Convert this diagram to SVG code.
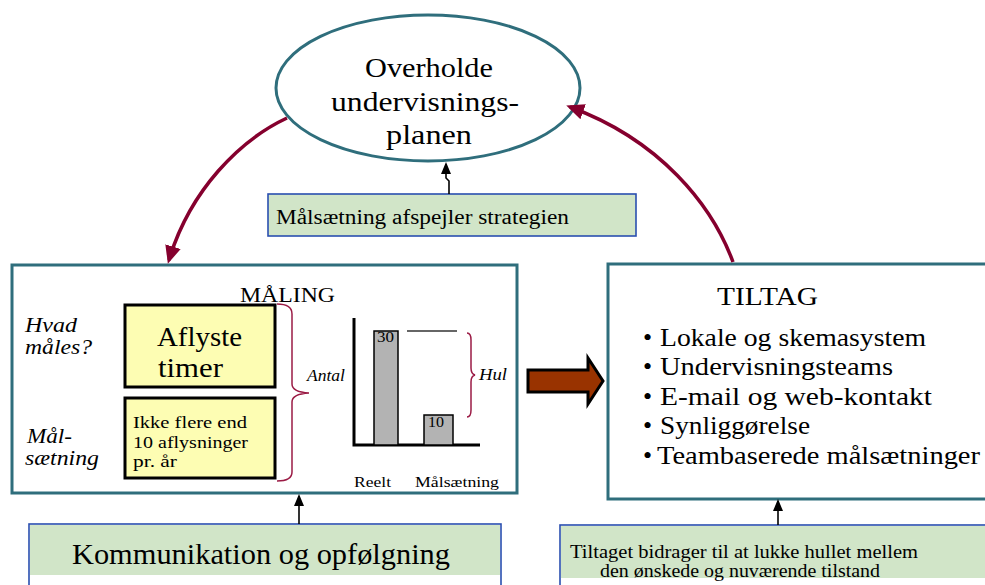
<svg xmlns="http://www.w3.org/2000/svg" width="985" height="585" viewBox="0 0 985 585">
  <style>
    text { font-family: "Liberation Serif", "DejaVu Serif", serif; fill: #000; }
    .it { font-style: italic; }
    .frame { fill: #fff; stroke: #2f6e7c; stroke-width: 3; }
    .note { fill: #d1e5c8; stroke: #2a4fb0; stroke-width: 1.6; }
    .notebox { fill: #fff; stroke: #2a4fb0; stroke-width: 1.6; }
    .yellow { fill: #fdfdb3; stroke: #000; stroke-width: 3; }
    .bar { fill: #b3b3b3; stroke: #000; stroke-width: 1.5; }
    .axis { fill: none; stroke: #000; stroke-width: 3; }
    .brace { fill: none; stroke: #9b1b45; stroke-width: 1.5; }
    .loop { fill: none; stroke: #85002e; stroke-width: 3.5; }
    .thin { fill: none; stroke: #000; stroke-width: 1.6; }
  </style>
  <defs>
    <marker id="redHead" markerUnits="userSpaceOnUse" markerWidth="18" markerHeight="18" viewBox="0 0 18 18" refX="14" refY="9" orient="auto">
      <path d="M0,1 L18,9 L0,17 z" fill="#85002e"/>
    </marker>
    <marker id="blackHead" markerUnits="userSpaceOnUse" markerWidth="12" markerHeight="12" viewBox="0 0 12 12" refX="10" refY="6" orient="auto">
      <path d="M0,1 L12,6 L0,11 z" fill="#000"/>
    </marker>
  </defs>

  <!-- goal ellipse -->
  <g id="goal">
    <ellipse cx="428" cy="88" rx="152" ry="73" fill="#fff" stroke="#2f6e7c" stroke-width="3"/>
    <text x="365" y="77" font-size="27" textLength="128" lengthAdjust="spacingAndGlyphs">Overholde</text>
    <text x="331" y="111" font-size="27" textLength="188" lengthAdjust="spacingAndGlyphs">undervisnings-</text>
    <text x="386" y="144" font-size="27" textLength="86" lengthAdjust="spacingAndGlyphs">planen</text>
  </g>

  <!-- strategy note -->
  <g id="strategy">
    <rect class="note" x="268" y="194" width="368" height="42"/>
    <text x="276" y="224" font-size="20" textLength="293" lengthAdjust="spacingAndGlyphs">Målsætning afspejler strategien</text>
  </g>

  <!-- measurement panel -->
  <g id="maaling">
    <rect class="frame" x="12" y="265" width="505" height="228"/>
    <text x="240" y="302" font-size="22" textLength="95" lengthAdjust="spacingAndGlyphs">MÅLING</text>
    <text class="it" x="25" y="332" font-size="21" textLength="52" lengthAdjust="spacingAndGlyphs">Hvad</text>
    <text class="it" x="25" y="354" font-size="21" textLength="67" lengthAdjust="spacingAndGlyphs">måles?</text>
    <text class="it" x="27" y="443" font-size="20" textLength="45" lengthAdjust="spacingAndGlyphs">Mål-</text>
    <text class="it" x="25" y="465" font-size="20" textLength="74" lengthAdjust="spacingAndGlyphs">sætning</text>

    <rect class="yellow" x="125" y="305" width="150" height="82"/>
    <text x="157" y="346" font-size="28" textLength="85" lengthAdjust="spacingAndGlyphs">Aflyste</text>
    <text x="158" y="377" font-size="28" textLength="65" lengthAdjust="spacingAndGlyphs">timer</text>

    <rect class="yellow" x="125" y="398" width="150" height="80"/>
    <text x="133" y="428" font-size="17" textLength="114" lengthAdjust="spacingAndGlyphs">Ikke flere end</text>
    <text x="133" y="448" font-size="17" textLength="115" lengthAdjust="spacingAndGlyphs">10 aflysninger</text>
    <text x="133" y="467" font-size="17" textLength="44" lengthAdjust="spacingAndGlyphs">pr. år</text>

    <path class="brace" d="M277,304 Q292,304 292,314 L292,384 Q292,392 309,393 Q292,394 292,402 L292,472 Q292,481 277,481"/>
    <text class="it" x="307" y="381" font-size="16" textLength="38" lengthAdjust="spacingAndGlyphs">Antal</text>

    <path class="axis" d="M354,318 V445 H480"/>
    <rect class="bar" x="374" y="331" width="24" height="114"/>
    <text x="377" y="342" font-size="14" textLength="17" lengthAdjust="spacingAndGlyphs">30</text>
    <rect class="bar" x="424" y="415" width="29" height="30"/>
    <text x="428" y="427" font-size="14" textLength="16" lengthAdjust="spacingAndGlyphs">10</text>
    <line x1="407" y1="331" x2="457" y2="331" stroke="#333" stroke-width="1.6"/>
    <path class="brace" d="M467,333 Q471,333 471,340 L471,368 Q471,374 475,375 Q471,376 471,382 L471,410 Q471,417 467,417"/>
    <text class="it" x="479" y="380" font-size="16" textLength="28" lengthAdjust="spacingAndGlyphs">Hul</text>
    <text x="354" y="487" font-size="15" textLength="37" lengthAdjust="spacingAndGlyphs">Reelt</text>
    <text x="415" y="487" font-size="15" textLength="84" lengthAdjust="spacingAndGlyphs">Målsætning</text>
  </g>

  <!-- actions panel -->
  <g id="tiltag">
    <rect class="frame" x="608" y="264" width="400" height="235"/>
    <text x="717" y="305" font-size="25" textLength="101" lengthAdjust="spacingAndGlyphs">TILTAG</text>
    <text font-size="26"><tspan x="643" y="346">•</tspan><tspan x="660" y="346" textLength="266" lengthAdjust="spacingAndGlyphs">Lokale og skemasystem</tspan></text>
    <text font-size="26"><tspan x="643" y="375">•</tspan><tspan x="660" y="375" textLength="233" lengthAdjust="spacingAndGlyphs">Undervisningsteams</tspan></text>
    <text font-size="26"><tspan x="643" y="405">•</tspan><tspan x="660" y="405" textLength="272" lengthAdjust="spacingAndGlyphs">E-mail og web-kontakt</tspan></text>
    <text font-size="26"><tspan x="643" y="434">•</tspan><tspan x="660" y="434" textLength="150" lengthAdjust="spacingAndGlyphs">Synliggørelse</tspan></text>
    <text font-size="26"><tspan x="643" y="464">•</tspan><tspan x="657" y="464" textLength="323" lengthAdjust="spacingAndGlyphs">Teambaserede målsætninger</tspan></text>
  </g>

  <!-- communication note -->
  <g id="kommunikation">
    <rect class="notebox" x="29" y="524" width="472" height="70"/>
    <rect x="30" y="525" width="470" height="50" fill="#d1e5c8"/>
    <text x="72" y="564" font-size="29" textLength="378" lengthAdjust="spacingAndGlyphs">Kommunikation og opfølgning</text>
  </g>

  <!-- gap note -->
  <g id="gapnote">
    <rect class="notebox" x="560" y="525" width="440" height="70"/>
    <rect x="561" y="526" width="438" height="52" fill="#d1e5c8"/>
    <text x="570" y="558" font-size="18" textLength="348" lengthAdjust="spacingAndGlyphs">Tiltaget bidrager til at lukke hullet mellem</text>
    <text x="600" y="577" font-size="18" textLength="280" lengthAdjust="spacingAndGlyphs">den ønskede og nuværende tilstand</text>
  </g>

  <!-- connectors -->
  <g id="connectors">
    <path class="loop" d="M287,118 C240,140 190,190 169,260" marker-end="url(#redHead)"/>
    <path class="loop" d="M733,262 C712,205 660,140 570,107" marker-end="url(#redHead)"/>
    <path class="thin" d="M449,194 V181 L446,178 V164" marker-end="url(#blackHead)"/>
    <path class="thin" d="M299,524 V496" marker-end="url(#blackHead)"/>
    <path class="thin" d="M778,525 V501" marker-end="url(#blackHead)"/>
    <polygon points="528,370 588,370 588,358 603,381 588,404 588,392 528,392" fill="#993300" stroke="#000" stroke-width="3" stroke-linejoin="miter"/>
  </g>
</svg>
